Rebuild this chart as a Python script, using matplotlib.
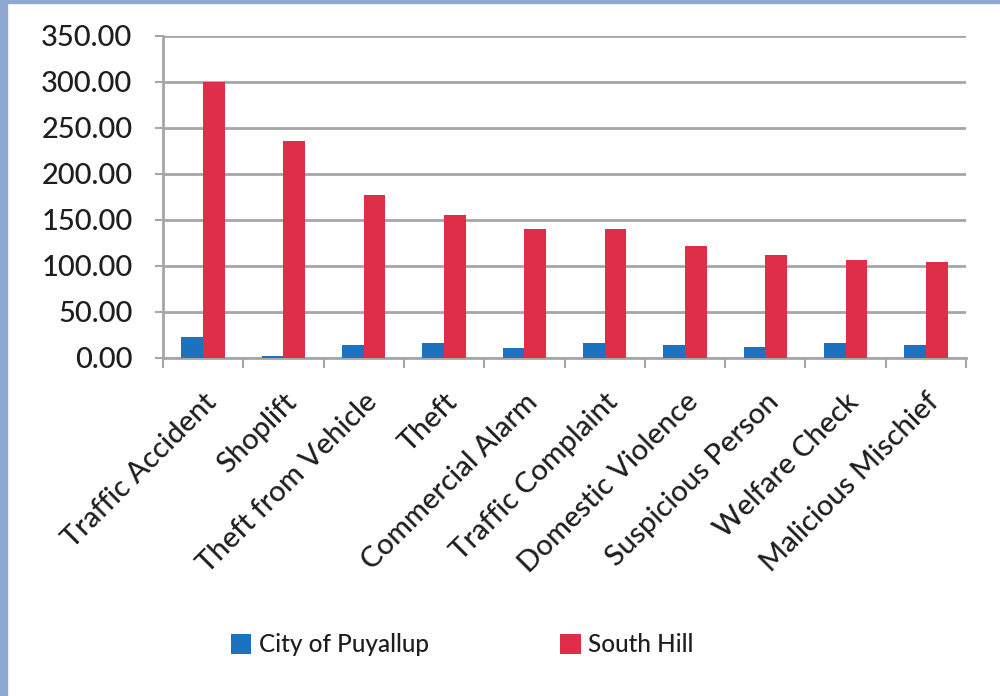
import numpy as np
import matplotlib.pyplot as plt
from matplotlib.patches import Rectangle

categories = ['Traffic Accident', 'Shoplift', 'Theft from Vehicle', 'Theft',
              'Commercial Alarm', 'Traffic Complaint', 'Domestic Violence',
              'Suspicious Person', 'Welfare Check', 'Malicious Mischief']
puyallup = [23, 2.5, 14, 16, 10.5, 16.5, 14, 12.5, 16, 14]
south_hill = [300, 236, 177, 155, 140, 140, 122, 112, 107, 104]
yticks = [0, 50, 100, 150, 200, 250, 300, 350]

blue = '#1C72BE'
red = '#DF2E48'
grid_grey = '#A6A6A6'
text_col = '#1E1E1E'
font = ['Lato', 'DejaVu Sans']
weight = 'medium'

fig = plt.figure(figsize=(10, 6.96), dpi=100)
fig.patch.set_facecolor('white')

# light blue frame on the left and top edges
fig.add_artist(Rectangle((0, 0), 0.007, 1, transform=fig.transFigure,
                         color='#8DA9D3', zorder=10))
fig.add_artist(Rectangle((0, 1 - 0.0045), 1, 0.0045, transform=fig.transFigure,
                         color='#8DA9D3', zorder=10))

ax = fig.add_axes([0.163, 1 - 358 / 696, 0.966 - 0.163, (358 - 36) / 696])

x = np.arange(len(categories))
w = 0.27
ax.bar(x - w / 2, puyallup, width=w, color=blue, label='City of Puyallup', zorder=3)
ax.bar(x + w / 2, south_hill, width=w, color=red, label='South Hill', zorder=3)

ax.set_xlim(-0.5, len(categories) - 0.5)
ax.set_ylim(0, 350)
ax.set_yticks(yticks)
ax.set_yticklabels([f'{v:.2f}' for v in yticks], fontsize=21, color=text_col,
                   family=font, fontweight=weight)
ax.yaxis.grid(True, color=grid_grey, linewidth=2, zorder=0)
ax.set_axisbelow(True)

# category ticks at boundaries, labels at centres
ax.set_xticks(np.arange(len(categories) + 1) - 0.5)
ax.set_xticklabels([])
ax.set_xticks(x, minor=True)
ax.set_xticklabels(categories, minor=True, rotation=45, ha='right',
                   rotation_mode='anchor', fontsize=21, color=text_col,
                   family=font, fontweight=weight)
ax.tick_params(axis='x', which='minor', length=0, pad=22)
ax.tick_params(axis='x', which='major', length=7, width=1.5, color=grid_grey)
ax.tick_params(axis='y', length=6, width=1.5, color=grid_grey, pad=16)

for s in ['top', 'right']:
    ax.spines[s].set_visible(False)
for s in ['left', 'bottom']:
    ax.spines[s].set_color(grid_grey)
    ax.spines[s].set_linewidth(2)

leg = fig.legend(loc='center', bbox_to_anchor=(0.462, 1 - 645 / 696), ncol=2,
                 frameon=False, handlelength=0.85, handleheight=0.85,
                 handletextpad=0.3, columnspacing=5.4,
                 prop={'family': font, 'size': 17.5, 'weight': weight})
for t in leg.get_texts():
    t.set_color(text_col)

fig.savefig('out.png', dpi=100)
